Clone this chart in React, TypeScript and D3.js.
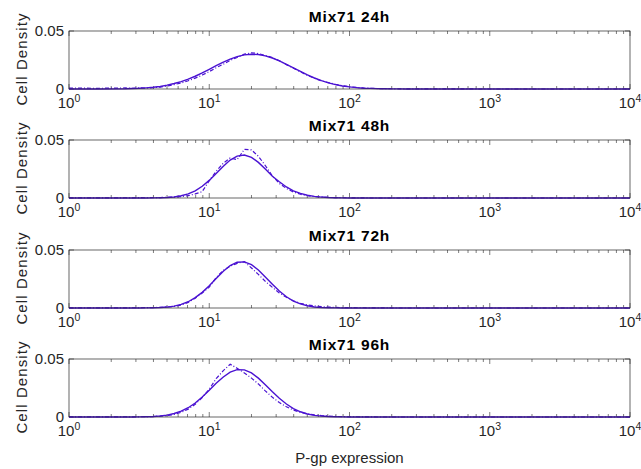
import React from "react";
import * as d3 from "d3";

// P-gp expression values (log spaced) shared by all panels
const expression = [
  1, 1.58, 2.51, 2.82, 3.16, 3.55, 3.98, 4.47, 5.01, 5.62, 6.31, 7.08, 7.94, 8.91,
  10, 11.2, 12.6, 14.1, 15.8, 17.8, 20.0, 22.4, 25.1, 28.2, 31.6, 35.5, 39.8, 44.7,
  50.1, 56.2, 63.1, 70.8, 79.4, 89.1, 100, 112, 126, 141, 158, 178, 200, 224, 251,
  398, 1000, 3162, 10000,
];

const titles = ["Mix71 24h", "Mix71 48h", "Mix71 72h", "Mix71 96h"];

// fitted density (solid)
const fit24 = [0, 0, 0.0002, 0.0004, 0.0006, 0.001, 0.0015, 0.0022, 0.0033, 0.0047, 0.0064, 0.0085, 0.011, 0.0139, 0.017, 0.0201, 0.0231, 0.0258, 0.0279, 0.0294, 0.03, 0.0297, 0.0286, 0.0267, 0.0242, 0.0213, 0.0182, 0.0151, 0.0121, 0.0095, 0.0072, 0.0053, 0.0038, 0.0026, 0.0018, 0.0012, 0.0007, 0.0005, 0.0003, 0.0002, 0.0001, 0.0001, 0, 0, 0, 0, 0];
const fit48 = [0, 0, 0, 0, 0, 0, 0.0001, 0.0002, 0.0004, 0.0009, 0.0019, 0.0035, 0.0062, 0.0101, 0.0152, 0.0212, 0.0274, 0.0327, 0.0361, 0.037, 0.035, 0.0307, 0.0249, 0.0187, 0.014, 0.0095, 0.0062, 0.004, 0.0024, 0.0014, 0.0008, 0.0004, 0.0002, 0.0001, 0, 0, 0, 0, 0, 0, 0, 0, 0, 0, 0, 0, 0];
const fit72 = [0, 0, 0, 0, 0, 0.0001, 0.0002, 0.0004, 0.0008, 0.0016, 0.0031, 0.0054, 0.0089, 0.0135, 0.0192, 0.0255, 0.0317, 0.0366, 0.0395, 0.0398, 0.0374, 0.0328, 0.0268, 0.0205, 0.0146, 0.0097, 0.006, 0.0035, 0.0019, 0.0009, 0.0004, 0.0002, 0.0001, 0, 0, 0, 0, 0, 0, 0, 0, 0, 0, 0, 0, 0, 0];
const fit96 = [0, 0, 0, 0, 0.0001, 0.0002, 0.0004, 0.0009, 0.0016, 0.003, 0.005, 0.008, 0.0121, 0.0172, 0.023, 0.0291, 0.0345, 0.0387, 0.0408, 0.0406, 0.038, 0.0335, 0.0279, 0.0218, 0.0161, 0.0112, 0.0073, 0.0045, 0.0026, 0.0014, 0.0008, 0.0004, 0.0002, 0.0001, 0, 0, 0, 0, 0, 0, 0, 0, 0, 0, 0, 0, 0];

// measured density (dash-dot)
const data24 = [0.0008, 0.0006, 0.0009, 0.0005, 0.001, 0.0008, 0.0012, 0.0016, 0.0026, 0.0038, 0.0052, 0.0071, 0.0094, 0.012, 0.015, 0.0183, 0.0214, 0.0247, 0.0272, 0.03, 0.0312, 0.0305, 0.029, 0.0271, 0.0244, 0.021, 0.018, 0.0148, 0.0118, 0.0093, 0.007, 0.0055, 0.004, 0.0029, 0.002, 0.0014, 0.0009, 0.0006, 0.0004, 0.0003, 0.0002, 0.0001, 0.0001, 0.0001, 0, 0, 0];
const data48 = [0.0002, 0.0001, 0.0002, 0.0001, 0.0003, 0.0002, 0.0003, 0.0004, 0.0006, 0.0008, 0.0012, 0.002, 0.0035, 0.0055, 0.015, 0.023, 0.03, 0.0345, 0.033, 0.042, 0.0415, 0.036, 0.028, 0.019, 0.0125, 0.0082, 0.0052, 0.0032, 0.002, 0.0012, 0.0008, 0.0005, 0.0003, 0.0002, 0.0002, 0.0001, 0.0001, 0, 0, 0, 0, 0, 0, 0, 0, 0, 0];
const data72 = [0.0002, 0.0001, 0.0001, 0.0002, 0.0002, 0.0003, 0.0004, 0.0005, 0.0008, 0.0014, 0.0025, 0.0048, 0.0085, 0.013, 0.018, 0.0262, 0.0325, 0.036, 0.0385, 0.04, 0.0345, 0.029, 0.023, 0.0178, 0.013, 0.0092, 0.0062, 0.004, 0.0026, 0.0018, 0.0012, 0.0008, 0.0005, 0.0004, 0.0003, 0.0002, 0.0002, 0.0001, 0.0001, 0.0001, 0, 0, 0, 0, 0, 0, 0];
const data96 = [0.0002, 0.0001, 0.0002, 0.0001, 0.0002, 0.0003, 0.0004, 0.0007, 0.0012, 0.0022, 0.004, 0.0068, 0.011, 0.0168, 0.024, 0.033, 0.04, 0.0455, 0.042, 0.038, 0.0335, 0.0285, 0.0225, 0.017, 0.0125, 0.0088, 0.006, 0.004, 0.0027, 0.0018, 0.0012, 0.0008, 0.0005, 0.0003, 0.0002, 0.0002, 0.0001, 0.0001, 0, 0, 0, 0, 0, 0, 0, 0, 0];

const fits = [fit24, fit48, fit72, fit96];
const measured = [data24, data48, data72, data96];
const yTicks = [0, 0.05];
const decades = [1, 10, 100, 1000, 10000];

const W = 641;
const H = 469;
const left = 69;
const right = 630;
const panelTop = [31, 140, 250, 359];
const panelH = 58;
const lineColor = "#4a12d2";
const axisColor = "#262626";
const font = "'Liberation Sans', Arial, Helvetica, sans-serif";

const x = d3.scaleLog().domain([1, 10000]).range([left, right]);
const minorTicks = x.ticks().filter((t) => !decades.includes(t));

const Panel = ({ idx }: { idx: number }) => {
  const top = panelTop[idx];
  const y = d3.scaleLinear().domain([0, 0.05]).range([top + panelH, top]);
  const line = d3
    .line<number>()
    .x((_, i) => x(expression[i]))
    .y((d) => y(d));
  const bottom = top + panelH;
  return (
    <g>
      <text
        x={(left + right) / 2}
        y={top - 9}
        textAnchor="middle"
        fontWeight="bold"
        fontSize={15.5}
        letterSpacing={0.8}
        fill="#000"
      >
        {titles[idx]}
      </text>
      {/* ticks */}
      {minorTicks.map((t) => (
        <g key={"m" + t} stroke={axisColor} strokeWidth={0.6}>
          <line x1={x(t)} x2={x(t)} y1={bottom} y2={bottom - 3} />
          <line x1={x(t)} x2={x(t)} y1={top} y2={top + 3} />
        </g>
      ))}
      {decades.map((t) => (
        <g key={"M" + t} stroke={axisColor} strokeWidth={0.6}>
          <line x1={x(t)} x2={x(t)} y1={bottom} y2={bottom - 5} />
          <line x1={x(t)} x2={x(t)} y1={top} y2={top + 5} />
        </g>
      ))}
      {yTicks.map((t) => (
        <g key={"y" + t} stroke={axisColor} strokeWidth={0.6}>
          <line x1={left} x2={left + 5} y1={y(t)} y2={y(t)} />
          <line x1={right} x2={right - 5} y1={y(t)} y2={y(t)} />
        </g>
      ))}
      <path d={line(measured[idx]) || ""} fill="none" stroke={lineColor} strokeWidth={1.2} strokeDasharray="4,2,1,2" />
      <path d={line(fits[idx]) || ""} fill="none" stroke={lineColor} strokeWidth={1.4} />
      <rect x={left} y={top} width={right - left} height={panelH} fill="none" stroke={axisColor} strokeWidth={0.7} />
      {/* labels */}
      {yTicks.map((t) => (
        <text key={"yl" + t} x={left - 5} y={y(t) + 4.5} textAnchor="end" fontSize={15} fill={axisColor}>
          {t === 0 ? "0" : d3.format(".2f")(t)}
        </text>
      ))}
      {decades.map((t, i) => (
        <text key={"xl" + t} x={x(t)} y={bottom + 19} textAnchor="middle" fontSize={15} fill={axisColor}>
          10
          <tspan dy={-6.5} fontSize={10.5}>
            {i}
          </tspan>
        </text>
      ))}
      <text
        transform={`translate(${27},${top + panelH / 2 - 1}) rotate(-90)`}
        textAnchor="middle"
        fontSize={15}
        letterSpacing={1.1}
        fill={axisColor}
      >
        Cell Density
      </text>
    </g>
  );
};

const App = () => {
  return (
    <div style={{ position: "absolute", left: 0, top: 0, width: W, height: H, background: "#fff" }}>
      <svg width={W} height={H} fontFamily={font}>
        <rect width={W} height={H} fill="#fff" />
        {titles.map((_, i) => (
          <Panel key={i} idx={i} />
        ))}
        <text x={(left + right) / 2} y={463} textAnchor="middle" fontSize={15} fill={axisColor}>
          P-gp expression
        </text>
      </svg>
    </div>
  );
};

export default App;
